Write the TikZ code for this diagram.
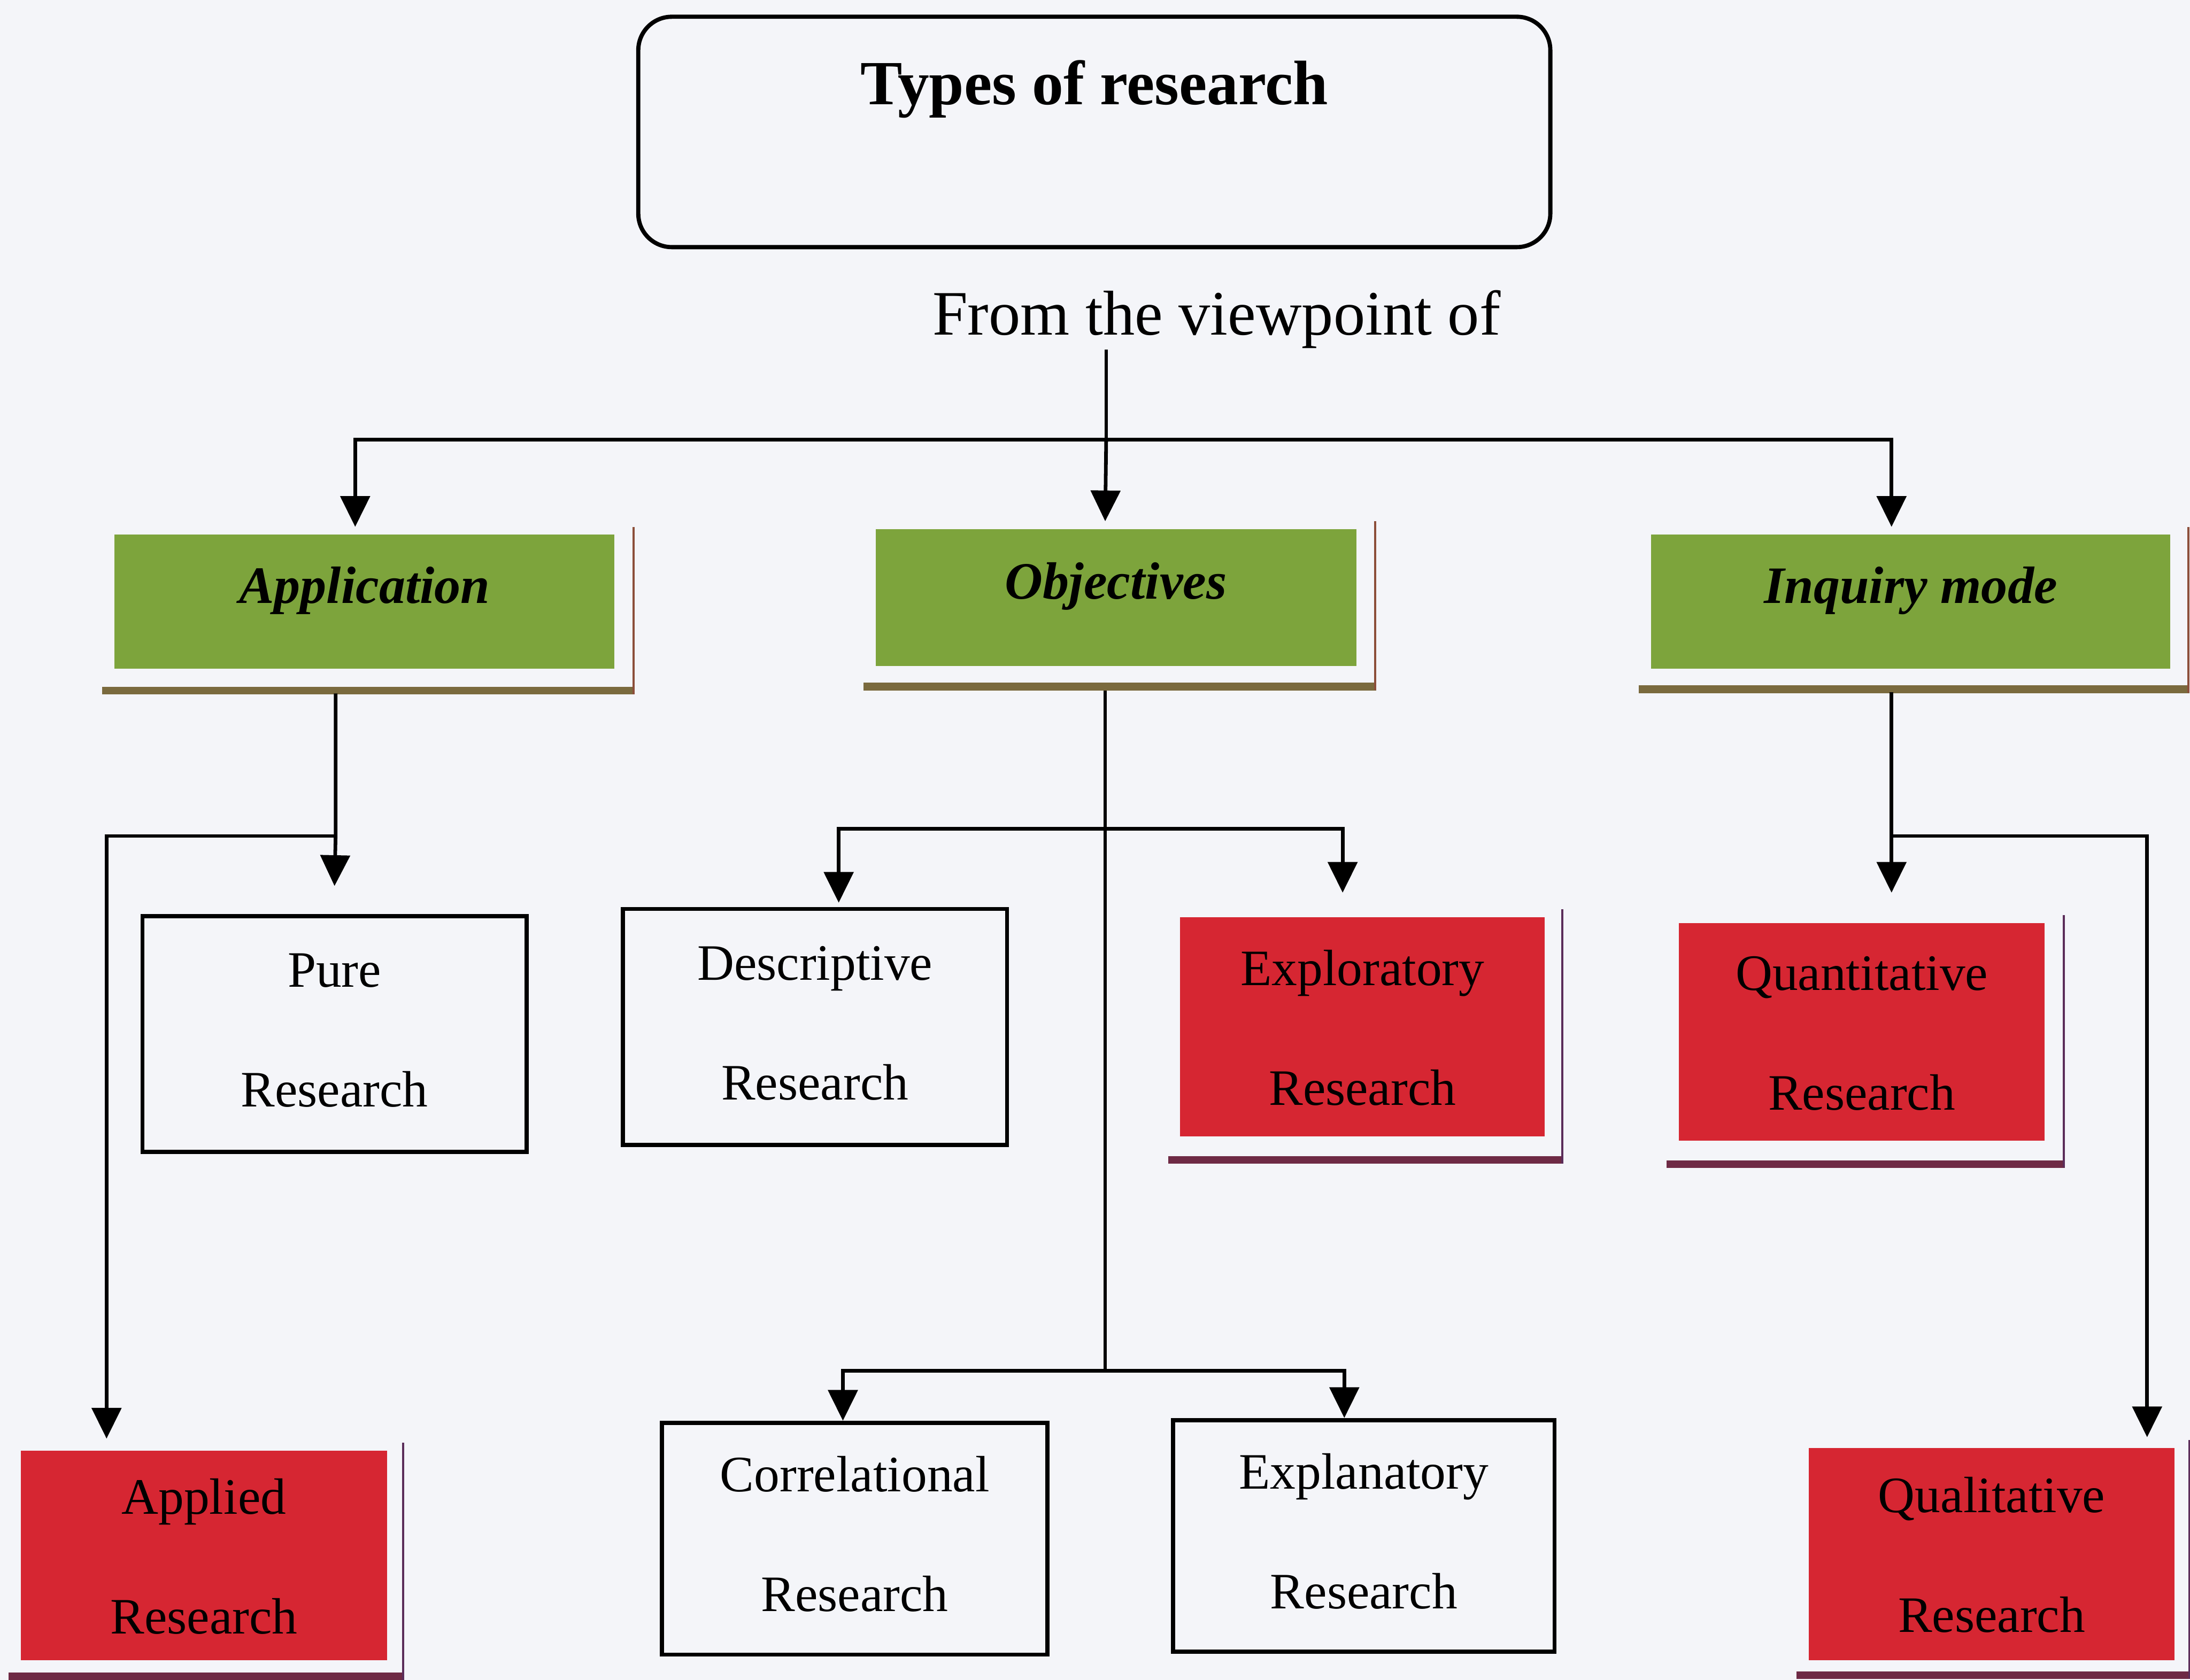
\documentclass[tikz,border=0pt]{standalone}
\usepackage{fontspec}
\setmainfont{Liberation Serif}
\usetikzlibrary{arrows.meta,calc}

\definecolor{paper}{HTML}{F4F5F9}
\definecolor{olivefill}{HTML}{7DA43C}
\definecolor{redfill}{HTML}{D62632}
\definecolor{oliveband}{HTML}{7A6A3E}
\definecolor{oliveside}{HTML}{8C4E3A}
\definecolor{redband}{HTML}{6E2A45}
\definecolor{redside}{HTML}{5B2D5A}

% offset right/bottom frame behind a filled box:
% #1 node, #2 band colour, #3 side colour, #4 x offset of side line, #5 y offset of band
\newcommand\castshade[5]{%
  \draw[line width=0.55mm, #2] ($(#1.south west)+(-8,#5)$) -- ($(#1.south east)+(#4+0.8,#5)$);
  \draw[line width=0.15mm, #3] ($(#1.north east)+(#4,-5)$) -- ($(#1.south east)+(#4,#5+2.5)$);
}

\begin{document}
\begin{tikzpicture}[x=0.1mm,y=-0.1mm,
  span/.style n args={4}{at={({(#1+#3)/2},{(#2+#4)/2})},
    minimum width={(#3-#1)*0.1mm}, minimum height={(#4-#2)*0.1mm}},
  twoline/.style={align=center, font=\fontsize{10.4}{24.4}\selectfont,
    text height=11.0mm, text depth=0.6mm},
  plainbox/.style={draw=black, line width=0.3mm, inner sep=0pt, twoline},
  redbox/.style={fill=redfill, inner sep=0pt, twoline, text height=11.8mm},
  greenbox/.style={fill=olivefill, inner sep=0pt,
    font=\fontsize{10.7}{13}\selectfont\bfseries\itshape,
    text height=2.6mm, text depth=2.4mm},
  titlebox/.style={draw=black, line width=0.3mm, rounded corners=2.4mm, inner sep=0pt,
    font=\fontsize{12.8}{15}\selectfont\bfseries,
    text height=3.2mm, text depth=7.1mm},
  conn/.style={line width=0.26mm, draw=black},
  arr/.style={conn, -{Triangle[length=2.2mm,width=2.1mm]}},
]
\fill[paper] (0,0) rectangle (1568,1203);
\useasboundingbox (0,0) rectangle (1568,1203);

% heading
\node[titlebox, span={457}{12}{1110}{177}] (title) {Types of research};
\node[font=\fontsize{12.9}{15}\selectfont, anchor=base, inner sep=0pt] (view) at (871,240) {From the viewpoint of};

% first level
\node[greenbox, span={82}{383}{440}{479}] (app) {Application};
\node[greenbox, span={627}{379}{971}{477}] (obj) {Objectives};
\node[greenbox, span={1182}{383}{1554}{479}] (inq) {Inquiry mode};
\castshade{app}{oliveband}{oliveside}{13}{15}
\castshade{obj}{oliveband}{oliveside}{13}{14}
\castshade{inq}{oliveband}{oliveside}{12}{14}

% second level
\node[plainbox, span={102}{656}{377}{825}] (pure) {Pure\\Research};
\node[plainbox, span={446}{651}{721}{820}] (desc) {Descriptive\\Research};
\node[redbox, span={845}{657}{1106}{814}] (explor) {Exploratory\\Research};
\node[redbox, span={1202}{661}{1464}{817}] (quant) {Quantitative\\Research};
\castshade{explor}{redband}{redside}{12}{16}
\castshade{quant}{redband}{redside}{13}{16}

% third level
\node[redbox, span={15}{1039}{277}{1189}] (applied) {Applied\\Research};
\node[plainbox, span={474}{1019}{750}{1185}] (corr) {Correlational\\Research};
\node[plainbox, span={840}{1017}{1113}{1183}] (expl) {Explanatory\\Research};
\node[redbox, span={1295}{1037}{1557}{1189}] (qual) {Qualitative\\Research};
\castshade{applied}{redband}{redside}{11}{11}
\castshade{qual}{redband}{redside}{10}{10}

% connectors from the heading
\coordinate (split) at (792,315);
\draw[conn] (view.south -| split) -- (split);
\draw[arr] (split) -| ($(app.north west)+(173,-5)$);
\draw[arr] (split) -- ($(obj.north west)+(165,-5)$);
\draw[arr] (split) -| ($(inq.north west)+(173,-5)$);

% application branch
\coordinate (afork) at ($(app.south west)+(159,119)$);
\draw[arr] ($(app.south west)+(159,17)$) -- (afork) -- ($(pure.north west)+(139,-20)$);
\draw[arr] (afork) -| ($(applied.north west)+(62,-8)$);

% objectives branch
\coordinate (ofork1) at ($(obj.south west)+(165,116)$);
\coordinate (ofork2) at ($(obj.south west)+(165,504)$);
\draw[conn] ($(obj.south west)+(165,17)$) -- (ofork2);
\draw[arr] (ofork1) -| ($(desc.north west)+(156,-3)$);
\draw[arr] (ofork1) -| ($(explor.north west)+(117,-17)$);
\draw[arr] (ofork2) -| ($(corr.north west)+(131,0)$);
\draw[arr] (ofork2) -| ($(expl.north west)+(124,0)$);

% inquiry-mode branch
\coordinate (ifork) at ($(inq.south west)+(173,119)$);
\draw[arr] ($(inq.south west)+(173,16)$) -- ($(quant.north west)+(153,-21)$);
\draw[arr] (ifork) -| ($(qual.north west)+(243,-7)$);
\end{tikzpicture}
\end{document}
